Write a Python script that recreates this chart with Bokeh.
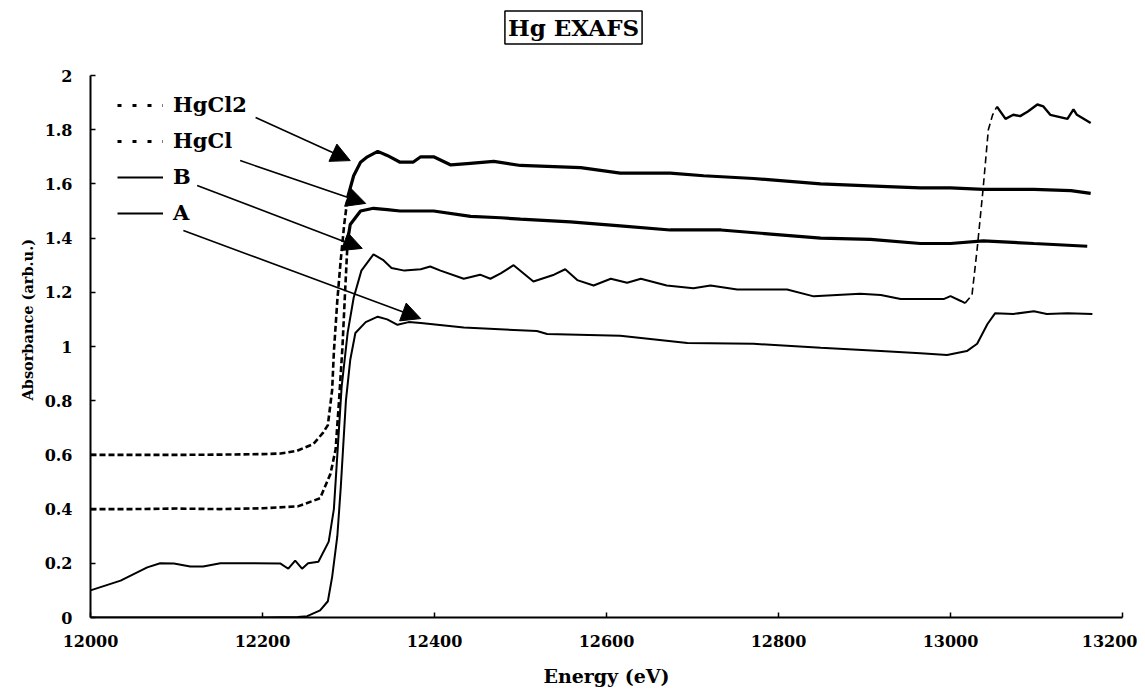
from bokeh.plotting import figure
from bokeh.models import Legend, LegendItem, Arrow, NormalHead, Title, Label, FixedTicker
from bokeh.embed import file_html
from bokeh.resources import INLINE

FONT = "DejaVu Serif"
NAN = float("nan")

# ---------------- data ----------------
hgcl2_e = [12000, 12050, 12100, 12150, 12200, 12221, 12240, 12259, 12270, 12276, 12281, 12283,
           12287, 12291, 12295, 12299, 12306, 12314, 12322, 12334, 12345, 12360, 12375, 12384,
           12399, 12419, 12438, 12469, 12500, 12570, 12616, 12674, 12713, 12771, 12849, 12927,
           12965, 13000, 13038, 13097, 13140, 13163]
hgcl2_a = [0.600, 0.600, 0.600, 0.601, 0.603, 0.605, 0.615, 0.640, 0.680, 0.710, 0.840, 0.980,
           1.170, 1.320, 1.450, 1.550, 1.630, 1.680, 1.700, 1.720, 1.705, 1.680, 1.680, 1.700,
           1.700, 1.670, 1.675, 1.683, 1.668, 1.660, 1.640, 1.640, 1.630, 1.620, 1.600, 1.590,
           1.585, 1.585, 1.580, 1.580, 1.575, 1.565]

hgcl_e = [12000, 12050, 12100, 12150, 12200, 12241, 12267, 12279, 12285, 12289, 12293, 12296,
          12299, 12302, 12314, 12329, 12345, 12360, 12384, 12399, 12442, 12477, 12500, 12558,
          12616, 12674, 12733, 12791, 12849, 12907, 12965, 13000, 13038, 13097, 13159]
hgcl_a = [0.400, 0.400, 0.402, 0.400, 0.403, 0.410, 0.440, 0.530, 0.620, 0.800, 1.000, 1.200,
          1.390, 1.450, 1.500, 1.510, 1.505, 1.500, 1.500, 1.500, 1.480, 1.475, 1.470, 1.460,
          1.445, 1.430, 1.430, 1.415, 1.400, 1.395, 1.380, 1.380, 1.390, 1.380, 1.370]

b_e = [12000, 12035, 12066, 12081, 12097, 12116, 12131, 12151, 12182, 12221, 12230, 12238,
       12246, 12253, 12265, 12277, 12283, 12287, 12292, 12299, 12306, 12315, 12329, 12340,
       12350, 12365, 12384, 12395, 12407, 12434, 12453, 12465, 12477, 12492, 12515, 12539,
       12552, 12566, 12585, 12605, 12624, 12640, 12670, 12701, 12721, 12752, 12810, 12841,
       12895, 12919, 12942, 12992, 13000, 13012, 13017, 13025, 13031, 13038, 13044, 13049,
       13054, 13064, 13073, 13081, 13090, 13101, 13108, 13116, 13136, 13143, 13147, 13163]
b_a = [0.100, 0.136, 0.185, 0.200, 0.199, 0.188, 0.188, 0.200, 0.200, 0.199, 0.180, 0.210,
       0.180, 0.200, 0.206, 0.280, 0.400, 0.600, 0.850, 1.050, 1.180, 1.280, 1.340, 1.320,
       1.290, 1.280, 1.285, 1.295, 1.280, 1.250, 1.265, 1.250, 1.270, 1.300, 1.240, 1.265,
       1.285, 1.245, 1.225, 1.250, 1.235, 1.250, 1.225, 1.215, 1.225, 1.210, 1.210, 1.185,
       1.195, 1.190, 1.175, 1.175, 1.186, 1.168, 1.160, 1.190, 1.360, 1.585, 1.800, 1.855,
       1.885, 1.840, 1.855, 1.850, 1.867, 1.893, 1.886, 1.855, 1.840, 1.875, 1.855, 1.825]

a_e = [12000, 12100, 12200, 12241, 12252, 12267, 12276, 12281, 12287, 12291, 12297, 12302,
       12308, 12320, 12334, 12345, 12357, 12370, 12384, 12434, 12519, 12531, 12616, 12694,
       12771, 12849, 12919, 12965, 12996, 13019, 13031, 13043, 13052, 13073, 13097, 13112,
       13136, 13165]
a_a = [0.000, 0.000, 0.000, 0.002, 0.005, 0.026, 0.060, 0.150, 0.300, 0.480, 0.800, 0.950,
       1.050, 1.090, 1.110, 1.100, 1.080, 1.090, 1.087, 1.070, 1.057, 1.046, 1.040, 1.013,
       1.010, 0.995, 0.983, 0.975, 0.969, 0.983, 1.010, 1.083, 1.123, 1.120, 1.130, 1.120,
       1.123, 1.120]

series_names = ["HgCl2", "HgCl", "B", "A"]

# energies where the drawn line style changes (dashed edge / dashed jump)
hgcl2_solid_from = 12299
hgcl_solid_from = 12299
b_jump_from, b_jump_to = 13017, 13054

# callout arrows (label -> curve), data units
arrow_start_e = [12192, 12174, 12124, 12108]
arrow_start_a = [1.845, 1.686, 1.594, 1.428]
arrow_tip_e = [12302, 12320, 12316, 12384]
arrow_tip_a = [1.686, 1.528, 1.362, 1.103]

x_ticks = [12000, 12200, 12400, 12600, 12800, 13000, 13200]
y_ticks = [0, 0.2, 0.4, 0.6, 0.8, 1, 1.2, 1.4, 1.6, 1.8, 2]
y_tick_labels = ["0", "0.2", "0.4", "0.6", "0.8", "1", "1.2", "1.4", "1.6", "1.8", "2"]
y_axis_max = 2


def split(e, a, lo, hi):
    idx = [i for i, v in enumerate(e) if lo <= v <= hi]
    return [e[i] for i in idx], [a[i] for i in idx]


# ---------------- figure ----------------
# the frame reaches up to the top margin so the boxed title can live inside it;
# the y axis itself is bounded to 0..2
TOP, AXIS_TOP, BOTTOM = 5, 75, 617
y_top = y_axis_max * (BOTTOM - TOP) / (BOTTOM - AXIS_TOP)

p = figure(width=1137, height=690, x_range=(12000, 13200), y_range=(0, y_top),
           output_backend="svg", toolbar_location=None,
           min_border_left=90, min_border_right=15, min_border_top=TOP, min_border_bottom=73)
p.outline_line_color = None
p.xgrid.visible = False
p.ygrid.visible = False
p.background_fill_color = "white"
p.border_fill_color = "white"

# HgCl2
e1, a1 = split(hgcl2_e, hgcl2_a, 0, hgcl2_solid_from)
e2, a2 = split(hgcl2_e, hgcl2_a, hgcl2_solid_from, 99999)
p.line(e1, a1, line_color="black", line_width=2.6, line_dash="6 3")
p.line(e2, a2, line_color="black", line_width=3.2)
# HgCl
e1, a1 = split(hgcl_e, hgcl_a, 0, hgcl_solid_from)
e2, a2 = split(hgcl_e, hgcl_a, hgcl_solid_from, 99999)
p.line(e1, a1, line_color="black", line_width=2.6, line_dash="6 3")
p.line(e2, a2, line_color="black", line_width=3.2)
# B
e1, a1 = split(b_e, b_a, 0, b_jump_from)
e2, a2 = split(b_e, b_a, b_jump_from, b_jump_to)
e3, a3 = split(b_e, b_a, b_jump_to, 99999)
p.line(e1, a1, line_color="black", line_width=2.0)
p.line(e2, a2, line_color="black", line_width=1.6, line_dash="7 4")
p.line(e3, a3, line_color="black", line_width=2.4)
# A
p.line(a_e, a_a, line_color="black", line_width=2.0)

# legend (dedicated sample renderers, nothing drawn in the plot area)
dotted1 = p.line([NAN], [NAN], line_color="black", line_width=3, line_dash="4 11")
dotted2 = p.line([NAN], [NAN], line_color="black", line_width=3, line_dash="4 11")
solid1 = p.line([NAN], [NAN], line_color="black", line_width=1.8)
solid2 = p.line([NAN], [NAN], line_color="black", line_width=1.8)
legend = Legend(items=[LegendItem(label=n, renderers=[r]) for n, r in
                       zip(series_names, [dotted1, dotted2, solid1, solid2])],
                location=(27, 392), orientation="vertical",
                background_fill_alpha=0, border_line_color=None,
                padding=0, margin=0, spacing=11, glyph_width=46, glyph_height=20,
                label_height=20, label_standoff=10,
                label_text_font=FONT, label_text_font_style="bold",
                label_text_font_size="21px", label_text_color="black")
p.add_layout(legend)

for xs, ys, xe, ye in zip(arrow_start_e, arrow_start_a, arrow_tip_e, arrow_tip_a):
    p.add_layout(Arrow(x_start=xs, y_start=ys, x_end=xe, y_end=ye,
                       line_color="black", line_width=1.6,
                       end=NormalHead(size=19, fill_color="black", line_color="black")))

# boxed title
p.add_layout(Label(x=483, y=BOTTOM - 27, x_units="screen", y_units="screen", text="Hg EXAFS",
                   text_align="center", text_baseline="middle",
                   text_font=FONT, text_font_style="bold", text_font_size="23px",
                   text_color="black", border_line_color="black", border_line_width=1.5,
                   background_fill_color="white", padding=3))

# axes
p.xaxis.ticker = FixedTicker(ticks=x_ticks)
p.yaxis.ticker = FixedTicker(ticks=y_ticks)
p.yaxis.bounds = (0, y_axis_max)
p.yaxis.major_label_overrides = {t: l for t, l in zip(y_ticks, y_tick_labels)}
for ax in (p.xaxis[0], p.yaxis[0]):
    ax.axis_line_color = "black"
    ax.axis_line_width = 2
    ax.major_tick_line_color = "black"
    ax.major_tick_line_width = 1.5
    ax.major_tick_in = 5
    ax.major_tick_out = 0
    ax.minor_tick_line_color = None
    ax.major_label_text_font = FONT
    ax.major_label_text_font_style = "bold"
    ax.major_label_text_color = "black"
    ax.axis_label_text_font = FONT
    ax.axis_label_text_font_style = "bold"
    ax.axis_label_text_color = "black"

p.xaxis.major_label_text_font_size = "16px"
p.yaxis.major_label_text_font_size = "16px"
p.xaxis.major_label_standoff = 17
p.yaxis.major_label_standoff = 18
p.xaxis.axis_label = "Energy (eV)"
p.xaxis.axis_label_text_font_size = "19px"
p.xaxis.axis_label_standoff = 15

# y-axis title, placed in the left panel so it can sit a little above centre
p.add_layout(Title(text="Absorbance (arb.u.)", align="left", offset=217, standoff=12,
                   text_font=FONT, text_font_style="bold", text_font_size="14.5px",
                   text_color="black"), "left")

open("out.html", "w").write(file_html(p, INLINE))
